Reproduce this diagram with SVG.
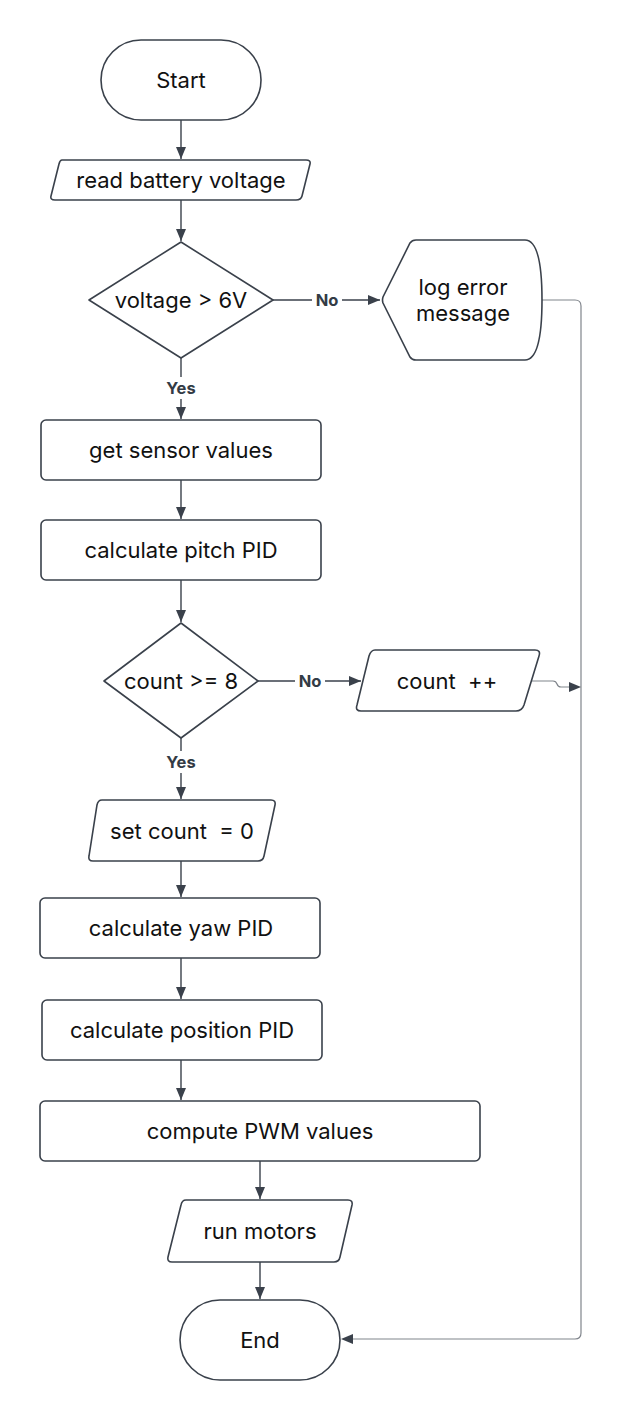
<svg xmlns="http://www.w3.org/2000/svg" width="622" height="1420" viewBox="0 0 622 1420">
<style>
.s{fill:#fff;stroke:#3a414b;stroke-width:1.6}
.t{font-family:Inter,"Noto Sans",sans-serif;font-size:22px;fill:#111;text-anchor:middle;dominant-baseline:central}
.l{font-family:Inter,"Noto Sans",sans-serif;font-size:16.5px;font-weight:bold;fill:#333b45;text-anchor:middle;dominant-baseline:central}
.c{fill:none;stroke:#3a414b;stroke-width:1.4}
.g{fill:none;stroke:#80858c;stroke-width:1.2}
</style>
<defs>
<marker id="a" viewBox="0 0 12 10" refX="12" refY="5" markerWidth="12" markerHeight="10" markerUnits="userSpaceOnUse" orient="auto">
<path d="M0 0 L12 5 L0 10 Z" fill="#3a414b"/>
</marker>
</defs>
<rect width="622" height="1420" fill="#fff"/>
<g id="connectors">
<path class="c" d="M181 120 V159" marker-end="url(#a)"/>
<path class="c" d="M181 200 V241" marker-end="url(#a)"/>
<path class="c" d="M273 300 H380" marker-end="url(#a)"/>
<path class="c" d="M181 358 V419" marker-end="url(#a)"/>
<path class="c" d="M181 480 V519" marker-end="url(#a)"/>
<path class="c" d="M181 580 V622" marker-end="url(#a)"/>
<path class="c" d="M258 681 H361" marker-end="url(#a)"/>
<path class="c" d="M181 738 V799" marker-end="url(#a)"/>
<path class="c" d="M181 861 V897" marker-end="url(#a)"/>
<path class="c" d="M181 958 V999" marker-end="url(#a)"/>
<path class="c" d="M181 1060 V1100" marker-end="url(#a)"/>
<path class="c" d="M260 1161 V1199" marker-end="url(#a)"/>
<path class="c" d="M260 1262 V1299" marker-end="url(#a)"/>
<path class="g" d="M542 300 H575 Q581 300 581 306 V1333 Q581 1339 575 1339 H353"/>
<path d="M341 1339 L353 1334 L353 1344 Z" fill="#3a414b"/>
<path class="g" d="M532 681 H553 Q556 681 557 684 Q558 687 561 687 H569"/>
<path d="M581 687 L569 682 L569 692 Z" fill="#3a414b"/>
<rect x="312" y="289" width="30" height="22" fill="#fff"/>
<text class="l" x="327" y="300">No</text>
<rect x="163" y="377" width="36" height="22" fill="#fff"/>
<text class="l" x="181" y="388">Yes</text>
<rect x="295" y="670" width="30" height="22" fill="#fff"/>
<text class="l" x="310" y="681">No</text>
<rect x="163" y="751" width="36" height="22" fill="#fff"/>
<text class="l" x="181" y="762">Yes</text>
</g>
<g id="start"><rect class="s" x="101" y="40" width="160" height="80" rx="40"/><text class="t" x="181" y="80">Start</text></g>
<g id="read"><path class="s" d="M62 160 H306 Q311 160 310 164 L302 196 Q301 200 296 200 H55 Q50 200 51 196 L59 164 Q60 160 62 160 Z"/><text class="t" x="181" y="180">read battery voltage</text></g>
<g id="volt"><path class="s" d="M181 242 L273 300 L181 358 L89 300 Z" stroke-linejoin="round"/><text class="t" x="181" y="300">voltage &gt; 6V</text></g>
<g id="logerr"><path class="s" d="M416 240 H525 Q542 240 542 300 Q542 360 525 360 H416 Q412 360 410 357 L383 303 Q382 300 383 297 L410 243 Q412 240 416 240 Z"/><text class="t" x="463" y="287">log error</text><text class="t" x="463" y="313">message</text></g>
<g id="sensor"><rect class="s" x="41" y="420" width="280" height="60" rx="5"/><text class="t" x="181" y="450">get sensor values</text></g>
<g id="pitch"><rect class="s" x="41" y="520" width="280" height="60" rx="5"/><text class="t" x="181" y="550">calculate pitch PID</text></g>
<g id="count"><path class="s" d="M181 623 L258 681 L181 738 L104 681 Z" stroke-linejoin="round"/><text class="t" x="181" y="681">count &gt;= 8</text></g>
<g id="countpp"><path class="s" d="M375 650 H535 Q541 650 539 656 L524 705 Q522 711 516 711 H361 Q355 711 357 705 L369 656 Q371 650 375 650 Z"/><text class="t" x="447" y="681" xml:space="preserve">count  ++</text></g>
<g id="setcount"><path class="s" d="M102 800 H271 Q276 800 275 805 L264 856 Q263 861 258 861 H93 Q88 861 89 856 L97 805 Q98 800 102 800 Z"/><text class="t" x="182" y="831" xml:space="preserve">set count  = 0</text></g>
<g id="yaw"><rect class="s" x="40" y="898" width="280" height="60" rx="5"/><text class="t" x="181" y="928">calculate yaw PID</text></g>
<g id="position"><rect class="s" x="42" y="1000" width="280" height="60" rx="5"/><text class="t" x="182" y="1030">calculate position PID</text></g>
<g id="pwm"><rect class="s" x="40" y="1101" width="440" height="60" rx="5"/><text class="t" x="260" y="1131">compute PWM values</text></g>
<g id="motors"><path class="s" d="M186 1200 H348 Q353 1200 352 1205 L340 1257 Q339 1262 334 1262 H172 Q167 1262 168 1257 L181 1205 Q182 1200 186 1200 Z"/><text class="t" x="260" y="1231">run motors</text></g>
<g id="end"><rect class="s" x="180" y="1300" width="160" height="80" rx="40"/><text class="t" x="260" y="1340">End</text></g>
</svg>
